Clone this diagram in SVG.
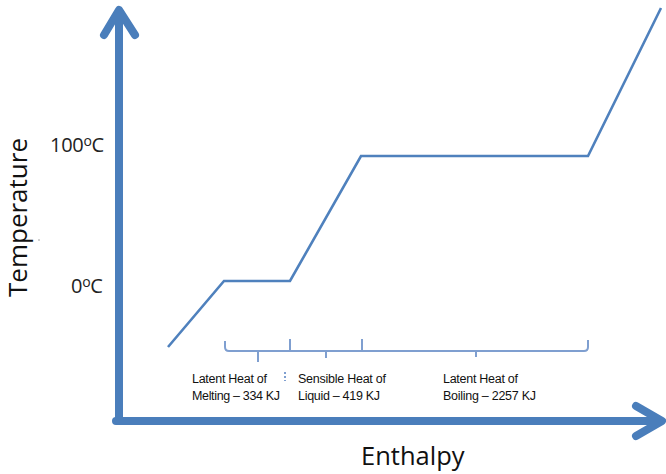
<svg xmlns="http://www.w3.org/2000/svg" width="666" height="474" viewBox="0 0 666 474">
<style>
.axis{fill:none;stroke:#4a7ebb;stroke-width:8;stroke-linecap:round;stroke-linejoin:round}
.curve{fill:none;stroke:#4f81bd;stroke-width:2.6;stroke-linejoin:miter}
.br{fill:none;stroke:#7f9fd0;stroke-width:2}
.big{font-family:"Open Sans","DejaVu Sans",sans-serif;fill:#111}
.tick{font-family:"Open Sans","DejaVu Sans",sans-serif;font-size:20px;fill:#222;letter-spacing:-0.3px}
.lbl{font-family:"Liberation Sans",Arial,sans-serif;font-size:12.5px;fill:#111}
</style>
<rect width="666" height="474" fill="#fff"/>
<g id="connectors">
<path id="y-axis" class="axis" d="M119 421 V12 M104 35 L119 10 L135 35" stroke-linecap="butt"/>
<path id="x-axis" class="axis" d="M116 421 H661 M636 406 L662 421 L636 436"/>
<path id="curve" class="curve" d="M168 347 L224 281 H290 L361 156 H588 L661 8"/>
<path id="brace" class="br" d="M225 341 V347 Q225 351 229 351 H584 Q588 351 588 347 V340 M290 339 V351 M362 339 V351 M258 351 V362 M326 351 V358 M476 351 V357"/>
<path class="br" d="M285 372 V381" stroke="#888" stroke-width="1" stroke-dasharray="2,2"/>
</g>
<g id="y-label"><text class="big" font-size="26" transform="translate(27 297) rotate(-90)">Temperature</text></g>
<g id="x-label"><text class="big" font-size="25.5" x="361" y="465">Enthalpy</text></g>
<g id="t100"><text class="tick" x="50" y="152">100<tspan font-size="14" dy="-6">o</tspan><tspan dy="6">C</tspan></text></g>
<g id="t0"><text class="tick" x="71" y="293">0<tspan font-size="14" dy="-6">o</tspan><tspan dy="6">C</tspan></text></g>
<g id="melting"><text class="lbl" x="192" y="383" textLength="75">Latent Heat of</text><text class="lbl" x="192" y="400" textLength="88">Melting – 334 KJ</text></g>
<g id="liquid"><text class="lbl" x="298" y="383" textLength="88">Sensible Heat of</text><text class="lbl" x="298" y="400" textLength="82">Liquid – 419 KJ</text></g>
<g id="boiling"><text class="lbl" x="443" y="383" textLength="75">Latent Heat of</text><text class="lbl" x="443" y="400" textLength="93">Boiling – 2257 KJ</text></g>
<circle cx="39" cy="240" r="0.8" fill="#999"/>
</svg>
